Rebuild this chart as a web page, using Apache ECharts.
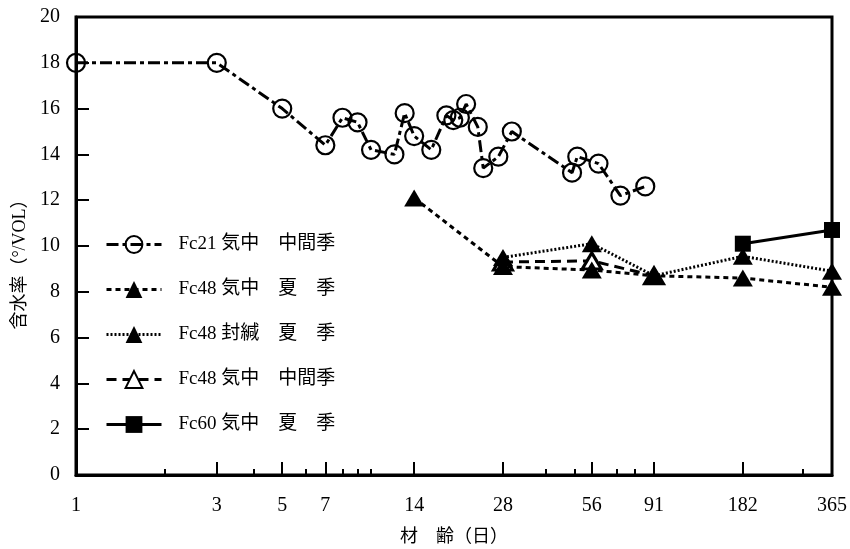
<!DOCTYPE html>
<html>
<head>
<meta charset="utf-8">
<script src="https://cdn.jsdelivr.net/npm/echarts@6/dist/echarts.min.js"></script>
<style>html,body{margin:0;padding:0;background:#fff;}#c{width:850px;height:549px;}</style>
</head>
<body>
<div id="c"></div>
<script>
const seriesNames = ['Fc21 気中　中間季', 'Fc48 気中　夏　季', 'Fc48 封緘　夏　季', 'Fc48 気中　中間季', 'Fc60 気中　夏　季'];
const fc21Air = [[1,18],[3,18],[5,16],[7,14.4],[8,15.6],[9,15.4],[10,14.2],[12,14.0],[13,15.8],[14,14.8],[16,14.2],[18,15.7],[19,15.5],[20,15.6],[21,16.2],[23,15.2],[24,13.4],[27,13.9],[30,15.0],[48,13.2],[50,13.9],[59,13.6],[70,12.2],[85,12.6]];
const fc48AirSummer = [[14,12.1],[28,9.1],[56,8.95],[91,8.7],[182,8.6],[365,8.2]];
const fc48SealSummer = [[28,9.5],[56,10.1],[91,8.7],[182,9.55],[365,8.9]];
const fc48AirMid = [[28,9.3],[56,9.35],[91,8.7]];
const fc60AirSummer = [[182,10.1],[365,10.7]];
const xLabels = [1,3,5,7,14,28,56,91,182,365];
const majorTicks = [3,5,7,14,28,56,91,182];
const minorTicks = [2,4,6,8,9,10,39,49,68,78,291];

const serif = '"Liberation Serif", "Noto Sans CJK JP", serif';
const chart = echarts.init(document.getElementById('c'));
const common = {type:'line', symbolKeepAspect:true, z:3};
chart.setOption({
  backgroundColor:'#fff',
  animation:false,
  grid:{left:76, right:14, top:17, bottom:72, show:true, borderColor:'#000', borderWidth:3, backgroundColor:'transparent'},
  legend:{
    orient:'vertical', left:100, top:230, itemWidth:55, itemHeight:21, itemGap:26,
    lineStyle:{width:3},
    textStyle:{fontFamily:serif, fontSize:19, color:'#000', padding:[0,0,0,12]},
    data:seriesNames
  },
  xAxis:[{
    type:'log', logBase:10, min:1, max:365,
    name:'材　齢（日）', nameLocation:'middle', nameGap:51,
    nameTextStyle:{fontFamily:'"Noto Sans CJK JP", sans-serif', fontSize:18, color:'#000'},
    axisLine:{show:true, lineStyle:{color:'#000', width:3}},
    axisTick:{show:true, inside:true, length:13, lineStyle:{color:'#000', width:2}, customValues:majorTicks},
    axisLabel:{show:true, margin:21, fontFamily:serif, fontSize:20, color:'#000', customValues:xLabels},
    splitLine:{show:false}, minorTick:{show:false}
  },{
    type:'log', logBase:10, min:1, max:365, position:'bottom',
    axisLine:{show:false},
    axisTick:{show:true, inside:true, length:6, lineStyle:{color:'#000', width:2}, customValues:minorTicks},
    axisLabel:{show:false}, splitLine:{show:false}
  }],
  yAxis:{
    type:'value', min:0, max:20, interval:2,
    name:'含水率（°/VOL）', nameLocation:'middle', nameGap:45, nameRotate:90,
    nameTextStyle:{fontFamily:serif, fontSize:18, color:'#000', padding:[0,28,0,0]},
    axisLine:{show:true, lineStyle:{color:'#000', width:3}},
    axisTick:{show:true, inside:true, length:13, lineStyle:{color:'#000', width:2}},
    axisLabel:{margin:16, fontFamily:serif, fontSize:20, color:'#000'},
    splitLine:{show:false}
  },
  series:[
    Object.assign({}, common, {name:seriesNames[0], data:fc21Air, symbol:'circle', symbolSize:18,
      itemStyle:{color:'rgba(255,255,255,0)', borderColor:'#000', borderWidth:2.2},
      lineStyle:{color:'#000', width:3, type:[12,4,4,4]}}),
    Object.assign({}, common, {name:seriesNames[1], data:fc48AirSummer, symbol:'triangle', symbolSize:[20,17],
      itemStyle:{color:'#000'}, lineStyle:{color:'#000', width:3, type:[5,4]}}),
    Object.assign({}, common, {name:seriesNames[2], data:fc48SealSummer, symbol:'triangle', symbolSize:[20,17],
      itemStyle:{color:'#000'}, lineStyle:{color:'#000', width:3, type:[2,2]}}),
    Object.assign({}, common, {name:seriesNames[3], data:fc48AirMid, symbol:'triangle', symbolSize:[19,16], z:2,
      itemStyle:{color:'#fff', borderColor:'#000', borderWidth:3}, lineStyle:{color:'#000', width:3, type:[10,6]}}),
    Object.assign({}, common, {name:seriesNames[4], data:fc60AirSummer, symbol:'rect', symbolSize:16,
      itemStyle:{color:'#000'}, lineStyle:{color:'#000', width:3, type:'solid'}})
  ]
});
</script>
</body>
</html>
